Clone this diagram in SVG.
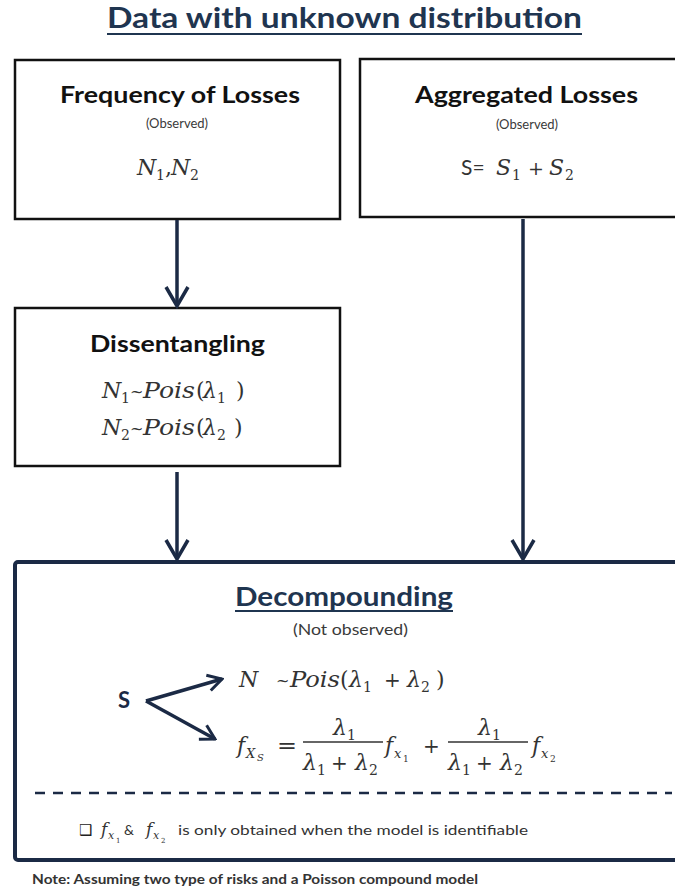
<svg xmlns="http://www.w3.org/2000/svg" width="675" height="891" viewBox="0 0 675 891">
<style>
.hd{font-family:Lato,"Open Sans","Liberation Sans",sans-serif;font-weight:bold;fill:#111}
.sm{font-family:Lato,"Open Sans","Liberation Sans",sans-serif;fill:#3a3a3a}
.m{font-family:"DejaVu Serif","Liberation Serif",serif;font-style:italic;fill:#333;font-size:22px}
.u{font-style:normal}
.s{font-style:normal;font-size:14px}
.box{fill:#fff;stroke:#111;stroke-width:2.5}
.con{stroke:#1b2a45;stroke-width:3.5;fill:none}
</style>
<defs>
<marker id="ah" viewBox="0 0 24 26" refX="21" refY="13" markerWidth="24" markerHeight="26" markerUnits="userSpaceOnUse" orient="auto">
<path d="M2,2 L21,13 L2,24" fill="none" stroke="#1b2a45" stroke-width="3.5"/>
</marker>
<marker id="ahs" viewBox="0 0 18 20" refX="16" refY="10" markerWidth="18" markerHeight="20" markerUnits="userSpaceOnUse" orient="auto">
<path d="M2,2 L16,10 L2,18" fill="none" stroke="#1b2a45" stroke-width="3"/>
</marker>
</defs>
<rect width="675" height="891" fill="#fff"/>

<g id="title">
<text class="hd" x="107" y="28" font-size="28" textLength="475" lengthAdjust="spacingAndGlyphs" style="fill:#1f3550">Data with unknown distribution</text>
<line x1="107" y1="34" x2="582" y2="34" stroke="#1f3550" stroke-width="2"/>
</g>

<g id="frequency">
<rect class="box" x="15" y="60" width="325" height="159"/>
<text class="hd" x="60" y="103" font-size="23" textLength="240" lengthAdjust="spacingAndGlyphs">Frequency of Losses</text>
<text class="sm" x="177" y="128" font-size="13" text-anchor="middle">(Observed)</text>
<text class="m"><tspan x="137" y="175">N</tspan><tspan class="s" x="156" y="180">1</tspan><tspan class="u" x="165" y="175">,</tspan><tspan x="171" y="175">N</tspan><tspan class="s" x="190" y="180">2</tspan></text>
</g>

<g id="aggregated">
<rect class="box" x="360" y="59" width="330" height="158"/>
<text class="hd" x="415" y="103" font-size="23" textLength="223" lengthAdjust="spacingAndGlyphs">Aggregated Losses</text>
<text class="sm" x="527" y="129" font-size="13" text-anchor="middle">(Observed)</text>
<text class="m"><tspan class="u" x="461" y="175" font-family="Lato,'Open Sans',sans-serif" font-size="21">S=</tspan><tspan x="496" y="175">S</tspan><tspan class="s" x="512" y="180">1</tspan><tspan class="u" x="528" y="175" font-size="19">+</tspan><tspan x="549" y="175">S</tspan><tspan class="s" x="565" y="180">2</tspan></text>
</g>

<g id="dissentangling">
<rect class="box" x="15" y="308" width="325" height="158"/>
<text class="hd" x="90" y="352" font-size="23" textLength="175" lengthAdjust="spacingAndGlyphs">Dissentangling</text>
<text class="m"><tspan x="102" y="398">N</tspan><tspan class="s" x="121" y="403">1</tspan><tspan class="u" x="130" y="397" font-size="16">~</tspan><tspan x="143" y="398" textLength="52" lengthAdjust="spacingAndGlyphs">Pois</tspan><tspan class="u" x="196" y="398">(</tspan><tspan x="203" y="398">λ</tspan><tspan class="s" x="217" y="403">1</tspan><tspan class="u" x="236" y="398">)</tspan></text>
<text class="m"><tspan x="102" y="435">N</tspan><tspan class="s" x="121" y="440">2</tspan><tspan class="u" x="130" y="434" font-size="16">~</tspan><tspan x="143" y="435" textLength="52" lengthAdjust="spacingAndGlyphs">Pois</tspan><tspan class="u" x="196" y="435">(</tspan><tspan x="203" y="435">λ</tspan><tspan class="s" x="217" y="440">2</tspan><tspan class="u" x="234" y="435">)</tspan></text>
</g>

<g id="decompounding">
<rect x="15" y="562" width="680" height="298" rx="3" fill="#fff" stroke="#1b2a45" stroke-width="4"/>
<text class="hd" x="235" y="606" font-size="27" textLength="218" lengthAdjust="spacingAndGlyphs" style="fill:#1f3550">Decompounding</text>
<line x1="235" y1="611" x2="453" y2="611" stroke="#1f3550" stroke-width="2"/>
<text class="sm" x="293" y="635" font-size="15" textLength="115" lengthAdjust="spacingAndGlyphs">(Not observed)</text>
<text class="hd" x="118" y="708" font-size="22" style="fill:#1b2a45">S</text>
<text class="m"><tspan x="239" y="687">N</tspan><tspan class="u" x="276" y="686" font-size="16">~</tspan><tspan x="290" y="687" textLength="50" lengthAdjust="spacingAndGlyphs">Pois</tspan><tspan class="u" x="340" y="687">(</tspan><tspan x="349" y="687">λ</tspan><tspan class="s" x="363" y="692">1</tspan><tspan class="u" x="384" y="687" font-size="20">+</tspan><tspan x="407" y="687">λ</tspan><tspan class="s" x="421" y="692">2</tspan><tspan class="u" x="436" y="687">)</tspan></text>

<text class="m"><tspan x="237" y="753">f</tspan><tspan x="246" y="758" font-size="13">X</tspan><tspan x="257" y="761" font-size="10">S</tspan><tspan class="u" x="277" y="753" textLength="20" lengthAdjust="spacingAndGlyphs">=</tspan></text>
<text class="m"><tspan x="333" y="735">λ</tspan><tspan class="s" x="347" y="740">1</tspan></text>
<line x1="303" y1="742" x2="383" y2="742" stroke="#333" stroke-width="1.3"/>
<text class="m"><tspan x="303" y="770">λ</tspan><tspan class="s" x="317" y="775">1</tspan><tspan class="u" x="331" y="770" font-size="20">+</tspan><tspan x="355" y="770">λ</tspan><tspan class="s" x="369" y="775">2</tspan></text>
<text class="m"><tspan x="385" y="753">f</tspan><tspan x="394" y="758" font-size="13">x</tspan><tspan class="u" x="403" y="762" font-size="9">1</tspan><tspan class="u" x="423" y="753" font-size="20">+</tspan></text>
<text class="m"><tspan x="478" y="735">λ</tspan><tspan class="s" x="492" y="740">1</tspan></text>
<line x1="448" y1="742" x2="528" y2="742" stroke="#333" stroke-width="1.3"/>
<text class="m"><tspan x="448" y="770">λ</tspan><tspan class="s" x="462" y="775">1</tspan><tspan class="u" x="476" y="770" font-size="20">+</tspan><tspan x="500" y="770">λ</tspan><tspan class="s" x="514" y="775">2</tspan></text>
<text class="m"><tspan x="532" y="753">f</tspan><tspan x="541" y="758" font-size="13">x</tspan><tspan class="u" x="550" y="762" font-size="9">2</tspan></text>

<line x1="35" y1="793" x2="672" y2="793" stroke="#1b2a45" stroke-width="2.5" stroke-dasharray="10 8"/>

<text x="79" y="835" font-family="'DejaVu Sans',sans-serif" font-size="15" fill="#222">❑</text>
<text class="m" style="font-size:17px"><tspan x="101" y="835">f</tspan><tspan x="108" y="839" font-size="11">x</tspan><tspan class="u" x="116" y="843" font-size="7">1</tspan><tspan class="u" x="124" y="835" font-family="Lato,'Open Sans',sans-serif" font-size="14">&amp;</tspan><tspan x="146" y="835">f</tspan><tspan x="153" y="839" font-size="11">x</tspan><tspan class="u" x="161" y="843" font-size="7">2</tspan></text>
<text class="sm" x="178" y="835" font-size="14" textLength="350" lengthAdjust="spacingAndGlyphs" style="fill:#333">is only obtained when the model is identifiable</text>
</g>

<g id="note">
<text class="hd" x="32" y="884" font-size="13" textLength="446" lengthAdjust="spacingAndGlyphs" style="fill:#333">Note: Assuming two type of risks and a Poisson compound model</text>
</g>

<g id="connectors">
<line class="con" x1="177" y1="220" x2="177" y2="306" marker-end="url(#ah)"/>
<line class="con" x1="177" y1="472" x2="177" y2="559" marker-end="url(#ah)"/>
<line class="con" x1="523" y1="219" x2="523" y2="559" marker-end="url(#ah)"/>
<line class="con" stroke-width="3" x1="146" y1="701" x2="222" y2="679" marker-end="url(#ahs)"/>
<line class="con" stroke-width="3" x1="146" y1="701" x2="215" y2="739" marker-end="url(#ahs)"/>
</g>
</svg>
